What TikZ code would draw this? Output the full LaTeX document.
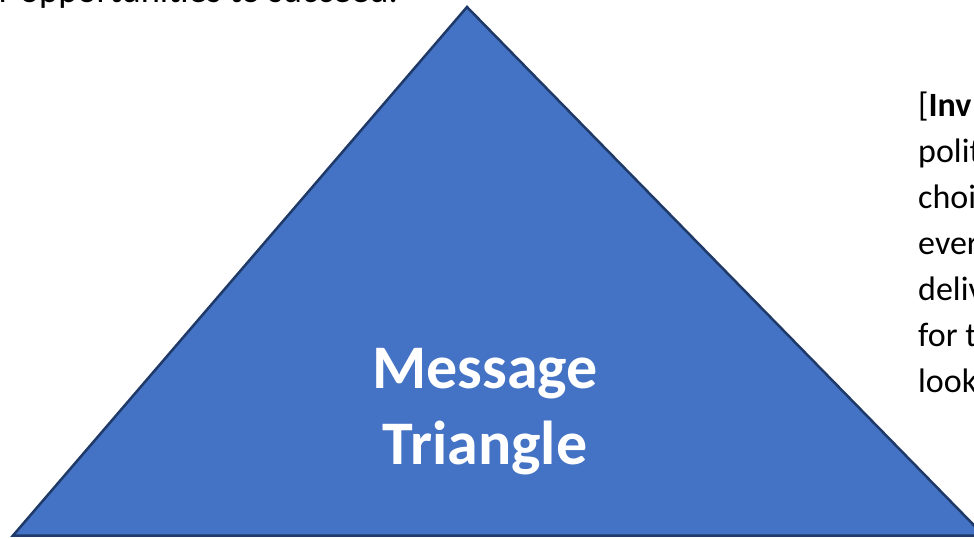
\documentclass[tikz,border=0pt]{standalone}
\usepackage{fontspec}
\setmainfont{Carlito}
\definecolor{trifill}{HTML}{4472C4}
\definecolor{triline}{HTML}{1F3A68}
\tikzset{
  tri/.style={fill=trifill, draw=triline, line width=2.5pt, line join=miter},
  body/.style={inner sep=0pt, font=\fontsize{34}{40}\selectfont, text=black},
  topline/.style={inner sep=0pt, font=\fontsize{36.5}{44}\selectfont, text=black},
  title/.style={inner sep=0pt, font=\bfseries\fontsize{62}{74}\selectfont, text=white}
}
\begin{document}
\begin{tikzpicture}[x=1pt,y=-1pt]
\useasboundingbox (0,0) rectangle (974,538);
\clip (0,0) rectangle (974,538);
\coordinate (apex) at (467,7);
\coordinate (br) at (984,535.5);
\coordinate (bl) at (13,535.5);
\draw[tri] (apex) -- (br) -- (bl) -- cycle;
\node[title, anchor=base] (msg1) at (485,388) {Message};
\node[title, anchor=base] (msg2) at (485,464) {Triangle};
\node[topline, anchor=base east] (top) at (398,2.5) {r opportunities to succeed.};
\node[body, anchor=base west] (r1) at (918,116) {[\textbf{Inv}};
\node[body, anchor=base west] (r2) at (918,162) {polit};
\node[body, anchor=base west] (r3) at (918,208) {choi};
\node[body, anchor=base west] (r4) at (918,254) {ever};
\node[body, anchor=base west] (r5) at (918,300) {deliv};
\node[body, anchor=base west] (r6) at (918,346) {for t};
\node[body, anchor=base west] (r7) at (918,392) {look};
\end{tikzpicture}
\end{document}
